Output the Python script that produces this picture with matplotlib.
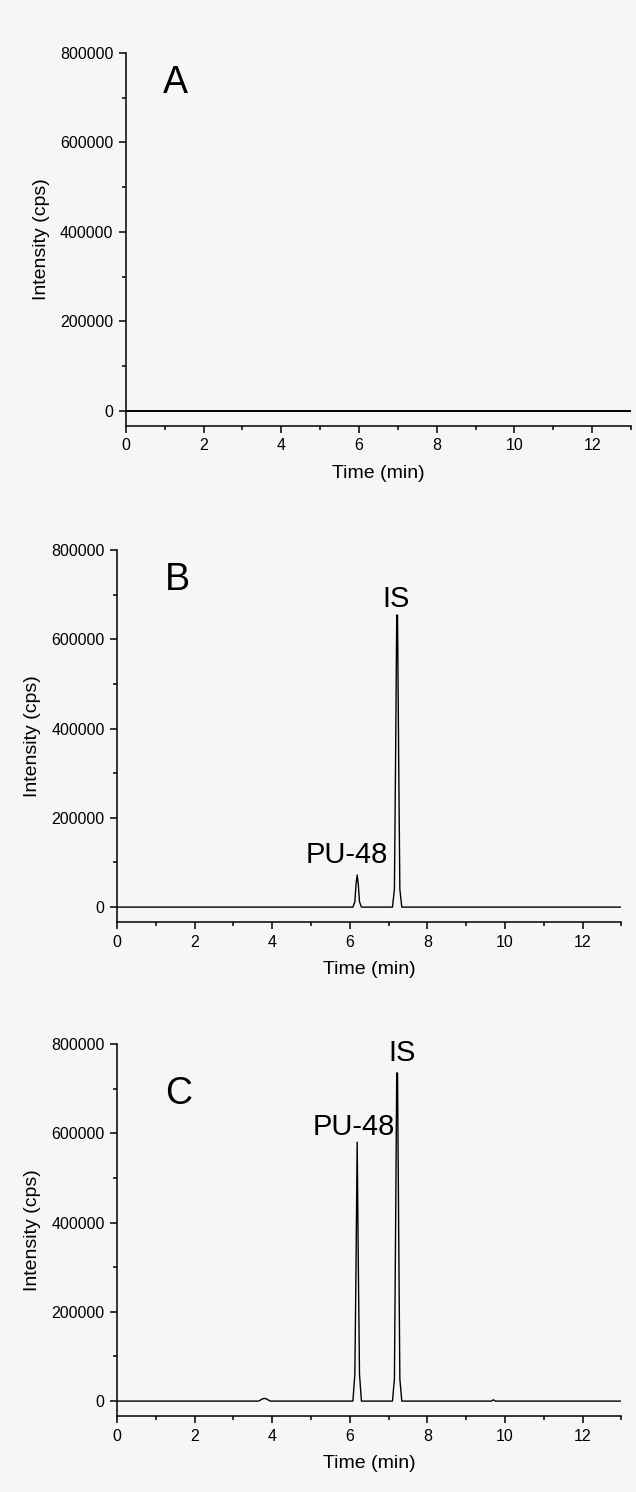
import matplotlib.pyplot as plt
from matplotlib.ticker import MultipleLocator

plt.rcParams['font.family'] = ['Liberation Sans', 'DejaVu Sans']

# chromatogram traces (time in min, intensity in cps)
t_A = [0, 13]
i_A = [0, 0]

t_B = [0, 6.08, 6.13, 6.16, 6.19, 6.22, 6.25, 6.30,
       7.10, 7.15, 7.18, 7.21, 7.23, 7.26, 7.29, 7.34, 13]
i_B = [0, 0, 12000, 50000, 72000, 50000, 12000, 0,
       0, 40000, 330000, 654000, 654000, 330000, 40000, 0, 0]

t_C = [0, 3.65, 3.75, 3.80, 3.85, 3.95, 6.08, 6.13, 6.16, 6.19, 6.22, 6.25, 6.30,
       7.10, 7.15, 7.18, 7.21, 7.23, 7.26, 7.29, 7.34, 9.65, 9.70, 9.75, 13]
i_C = [0, 0, 5000, 6000, 5000, 0, 0, 60000, 300000, 580000, 300000, 60000, 0,
       0, 50000, 380000, 735000, 735000, 380000, 50000, 0, 0, 3000, 0, 0]

panels = ['A', 'B', 'C']
traces = [(t_A, i_A), (t_B, i_B), (t_C, i_C)]
# annotations: (text, x, y)
notes = [[],
         [('PU-48', 4.85, 98000), ('IS', 6.84, 672000)],
         [('PU-48', 5.03, 596000), ('IS', 6.99, 762000)]]

# axes rectangles in figure fractions
rects = [[0.198, 0.7145, 0.794, 0.250],
         [0.184, 0.3820, 0.793, 0.2494],
         [0.184, 0.0509, 0.793, 0.2494]]
ylab_x = [-0.15, -0.15, -0.15]

fig = plt.figure(figsize=(6.36, 14.92), dpi=100)
fig.patch.set_facecolor('#f6f6f6')

for k in range(3):
    ax = fig.add_axes(rects[k])
    ax.set_facecolor('none')
    t, y = traces[k]
    ax.plot(t, y, color='black', lw=1.4 if k == 0 else 1.0)
    ax.set_xlim(0, 13)
    ax.set_ylim(-33500, 800000)
    for s in ['top', 'right']:
        ax.spines[s].set_visible(False)
    for s in ['left', 'bottom']:
        ax.spines[s].set_linewidth(1.1)
    ax.xaxis.set_major_locator(MultipleLocator(2))
    ax.xaxis.set_minor_locator(MultipleLocator(1))
    ax.yaxis.set_major_locator(MultipleLocator(200000))
    ax.yaxis.set_minor_locator(MultipleLocator(100000))
    ax.tick_params(which='major', direction='out', length=5, width=1.1, labelsize=11.5, pad=4)
    ax.tick_params(which='minor', direction='out', length=3, width=1.1)
    ax.set_xlabel('Time (min)', fontsize=14, labelpad=8)
    ax.set_ylabel('Intensity (cps)', fontsize=14)
    ax.yaxis.set_label_coords(ylab_x[k], 0.5)
    ax.text(0.94 if k == 0 else 1.245, 710000 if k < 2 else 666000, panels[k],
            fontsize=27, ha='left', va='baseline')
    for txt, xx, yy in notes[k]:
        ax.text(xx, yy, txt, fontsize=21, ha='left', va='baseline')

fig.savefig('out.png', dpi=100, facecolor=fig.get_facecolor())
